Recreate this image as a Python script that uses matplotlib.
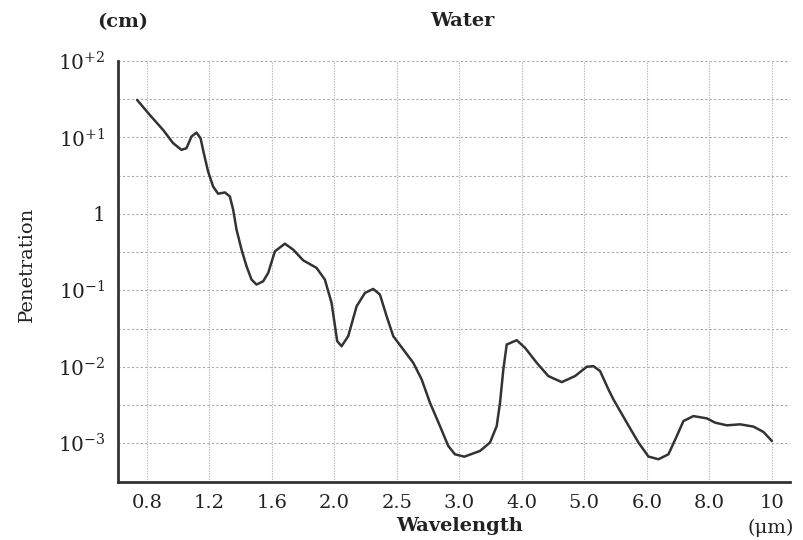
import numpy as np
import matplotlib
matplotlib.use('Agg')
import matplotlib.pyplot as plt

plt.rcParams['font.family'] = ['DejaVu Serif']
plt.rcParams['mathtext.fontset'] = 'dejavuserif'

# x tick labels (wavelength, um) - drawn at equal spacing
wl_labels = ['0.8', '1.2', '1.6', '2.0', '2.5', '3.0', '4.0', '5.0', '6.0', '8.0', '10']

# curve: position along the tick axis, log10 of penetration (cm)
pos = [-0.155, 0.048, 0.261, 0.421, 0.555, 0.635, 0.715, 0.795, 0.86, 0.912,
       0.981, 1.061, 1.141, 1.249, 1.329, 1.382, 1.436, 1.516, 1.596, 1.676,
       1.756, 1.862, 1.942, 2.049, 2.209, 2.342, 2.502, 2.716, 2.849, 2.956,
       3.046, 3.116, 3.222, 3.357, 3.49, 3.623, 3.73, 3.837, 3.943, 4.103,
       4.263, 4.397, 4.53, 4.69, 4.823, 4.93, 5.08, 5.331, 5.491, 5.598,
       5.651, 5.704, 5.758, 5.918, 6.051, 6.238, 6.424, 6.638, 6.851, 7.038,
       7.145, 7.252, 7.385, 7.465, 7.545, 7.679, 7.865, 8.025, 8.185, 8.345,
       8.479, 8.585, 8.745, 8.959, 9.092, 9.279, 9.493, 9.706, 9.866, 10.0]
log_pen = [1.491, 1.295, 1.099, 0.926, 0.838, 0.86, 1.012, 1.064, 0.99, 0.795,
           0.555, 0.359, 0.264, 0.281, 0.229, 0.055, -0.206, -0.467, -0.685, -0.859,
           -0.924, -0.881, -0.772, -0.49, -0.389, -0.467, -0.607, -0.706, -0.859, -1.163,
           -1.664, -1.73, -1.599, -1.208, -1.033, -0.981, -1.055, -1.338, -1.599, -1.773,
           -1.947, -2.164, -2.469, -2.774, -3.035, -3.144, -3.175, -3.1, -2.99, -2.774,
           -2.469, -2.034, -1.708, -1.652, -1.751, -1.947, -2.121, -2.2, -2.121, -1.999,
           -1.991, -2.056, -2.295, -2.426, -2.54, -2.73, -2.99, -3.173, -3.209, -3.144,
           -2.905, -2.709, -2.644, -2.674, -2.73, -2.765, -2.752, -2.782, -2.852, -2.97]

y_ticks = [1e2, 1e1, 1, 1e-1, 1e-2, 1e-3]
y_labels = [r'$\mathregular{10^{+2}}$', r'$\mathregular{10^{+1}}$', '1',
            r'$\mathregular{10^{-1}}$', r'$\mathregular{10^{-2}}$', r'$\mathregular{10^{-3}}$']

fig = plt.figure(figsize=(8.04, 5.4), dpi=100)
ax = fig.add_axes([0.1468, 0.1083, 0.8358, 0.7787])

ax.plot(pos, np.power(10.0, log_pen), color='#333333', lw=1.8,
        solid_capstyle='round', solid_joinstyle='round')

ax.set_yscale('log')
ax.set_ylim(10 ** -3.5, 1e2)
ax.set_xlim(-0.46, 10.29)

ax.set_xticks(range(len(wl_labels)))
ax.set_xticklabels(wl_labels, fontsize=14, color='#222222')
ax.set_yticks(y_ticks)
ax.set_yticklabels(y_labels, fontsize=14.5, color='#222222')
ax.minorticks_off()

# half-decade grid lines
half = [10 ** (k + 0.5) for k in range(-4, 2)]
ax.set_yticks(half, minor=True)
ax.tick_params(axis='both', which='both', length=0, pad=9)
ax.grid(True, which='both', axis='y', color='#aaaaaa', lw=0.8, linestyle=(0, (2, 2)))
ax.grid(True, which='major', axis='x', color='#b5b5b5', lw=0.8, linestyle=(0, (1.2, 1.2)))

for s in ['top', 'right']:
    ax.spines[s].set_visible(False)
for s in ['left', 'bottom']:
    ax.spines[s].set_linewidth(2)
    ax.spines[s].set_color('#333333')

fig.text(0.034, 0.511, 'Penetration', fontsize=14, rotation=90, ha='center', va='center', color='#222222')
fig.text(0.572, 0.026, 'Wavelength', fontsize=14, ha='center', va='center', weight='bold', color='#222222')
fig.text(0.959, 0.022, '(μm)', fontsize=14, ha='center', va='center', color='#222222')
fig.text(0.152, 0.959, '(cm)', fontsize=14, ha='center', va='center', weight='bold', color='#222222')
fig.text(0.575, 0.961, 'Water', fontsize=14, ha='center', va='center', weight='bold', color='#222222')

fig.savefig('out.png', dpi=100)
